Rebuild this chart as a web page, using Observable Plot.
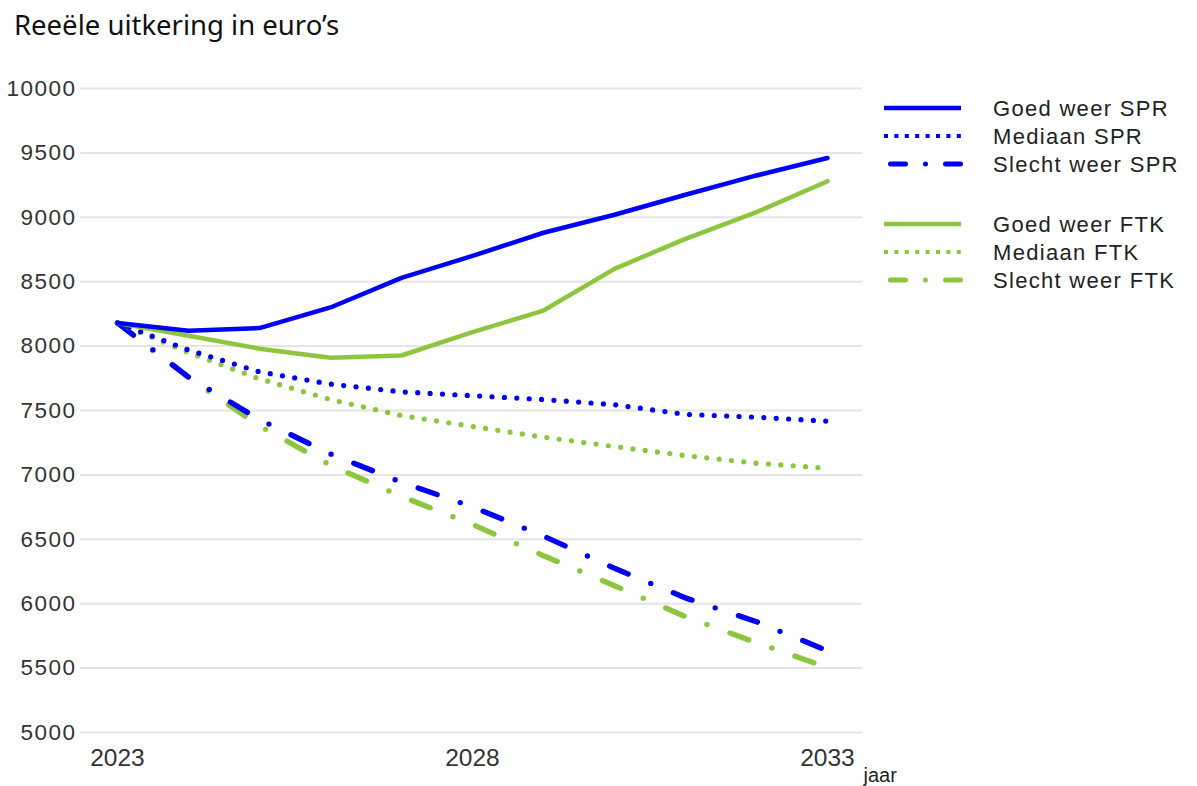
<!DOCTYPE html>
<html>
<head>
<meta charset="utf-8">
<script src="https://cdn.jsdelivr.net/npm/d3@7"></script>
<script src="https://cdn.jsdelivr.net/npm/@observablehq/plot@0.6"></script>
<style>
  html, body { margin: 0; padding: 0; background: #fff; }
  #wrap { position: relative; width: 1197px; height: 786px; overflow: hidden; }
  #title { height: 60px; box-sizing: border-box; padding: 6px 0 0 14px; font-family: "Noto Sans", "Open Sans", sans-serif; font-size: 27.5px; color: #111; }
  #legend { position: absolute; left: 0; top: 0; }
  #legend text { font-family: "Liberation Sans", Arial, sans-serif; font-size: 22px; fill: #222; letter-spacing: 1.3px; }
  #chart svg g[aria-label="y-axis tick label"] text { letter-spacing: 1.5px; }
</style>
</head>
<body>
<div id="wrap">
  <div id="title">Reeële uitkering in euro’s</div>
  <div id="chart"></div>
</div>
<script>
const years = [2023, 2024, 2025, 2026, 2027, 2028, 2029, 2030, 2031, 2032, 2033];
const goedSPR    = [8180, 8120, 8140, 8300, 8530, 8700, 8880, 9020, 9175, 9325, 9460];
const mediaanSPR = [8180, 7970, 7800, 7705, 7645, 7615, 7585, 7545, 7470, 7448, 7417];
const slechtSPR  = [8180, 7760, 7430, 7163, 6943, 6752, 6525, 6275, 6045, 5860, 5635];
const goedFTK    = [8180, 8080, 7980, 7910, 7927, 8108, 8276, 8600, 8833, 9040, 9280];
const mediaanFTK = [8180, 7950, 7746, 7585, 7461, 7376, 7293, 7220, 7150, 7091, 7052];
const slechtFTK  = [8180, 7756, 7380, 7075, 6833, 6615, 6373, 6140, 5900, 5697, 5505];
const yTicks = [5000, 5500, 6000, 6500, 7000, 7500, 8000, 8500, 9000, 9500, 10000];
const xTicks = [2023, 2028, 2033];
const seriesNames = ["Goed weer SPR", "Mediaan SPR", "Slecht weer SPR", "Goed weer FTK", "Mediaan FTK", "Slecht weer FTK"];

const BLUE = "#0000f5";
const GREEN = "#8cc63f";

const toRows = (vals) => years.map((y, i) => ({year: y, value: vals[i]}));

const solid = {strokeWidth: 4.5, strokeLinejoin: "round"};
const dotted = {strokeWidth: 5.2, strokeDasharray: "0 12.4", strokeLinecap: "round"};
const dashdot = {strokeWidth: 5.4, strokeDasharray: "20 24.5 0 24.5", strokeLinecap: "round"};

const chart = Plot.plot({
  width: 910,
  height: 726,
  marginLeft: 80,
  marginRight: 48,
  marginTop: 28,
  marginBottom: 54,
  style: {fontFamily: "'Liberation Sans', Arial, sans-serif", background: "transparent", color: "#333"},
  x: {domain: [2022.479, 2033.493]},
  y: {domain: [5000, 10000]},
  marks: [
    Plot.ruleY(yTicks, {stroke: "#e4e4e4", strokeWidth: 2}),
    Plot.axisY({ticks: yTicks, tickSize: 0, tickPadding: 4, fontSize: 22.5, tickFormat: d => String(d), label: null}),
    Plot.axisX({ticks: xTicks, tickSize: 0, tickPadding: 16, fontSize: 24.5, tickFormat: d => String(d), label: null}),
    Plot.text(["jaar"], {frameAnchor: "bottom-right", text: d => d, textAnchor: "start", lineAnchor: "bottom", dx: 1, dy: 49, fontSize: 20, fill: "#222"}),
    Plot.line(toRows(slechtFTK), {x: "year", y: "value", stroke: GREEN, ...dashdot}),
    Plot.line(toRows(slechtSPR), {x: "year", y: "value", stroke: BLUE, ...dashdot}),
    Plot.line(toRows(mediaanFTK), {x: "year", y: "value", stroke: GREEN, ...dotted}),
    Plot.line(toRows(mediaanSPR), {x: "year", y: "value", stroke: BLUE, ...dotted}),
    Plot.line(toRows(goedFTK), {x: "year", y: "value", stroke: GREEN, ...solid}),
    Plot.line(toRows(goedSPR), {x: "year", y: "value", stroke: BLUE, ...solid})
  ]
});
document.getElementById("chart").appendChild(chart);

// Legend
const legendStyles = [
  {color: BLUE, dash: null, w: 4.5, cap: "butt"},
  {color: BLUE, dash: "4 6.4", w: 4.2, cap: "butt"},
  {color: BLUE, dash: "15 20 0 20", w: 5, cap: "round"},
  {color: GREEN, dash: null, w: 4.5, cap: "butt"},
  {color: GREEN, dash: "4 6.4", w: 4.2, cap: "butt"},
  {color: GREEN, dash: "15 20 0 20", w: 5, cap: "round"}
];
const legendY = [108, 136, 164, 224, 252, 280];
const ns = "http://www.w3.org/2000/svg";
const leg = document.createElementNS(ns, "svg");
leg.setAttribute("id", "legend");
leg.setAttribute("width", 1197);
leg.setAttribute("height", 320);
leg.style.position = "absolute";
leg.style.left = "0px";
leg.style.top = "0px";
seriesNames.forEach((name, i) => {
  const s = legendStyles[i];
  const y = legendY[i];
  const line = document.createElementNS(ns, "line");
  const isDD = s.dash && s.cap === "round";
  line.setAttribute("x1", isDD ? 890.5 : 884);
  line.setAttribute("x2", 961);
  line.setAttribute("y1", y);
  line.setAttribute("y2", y);
  line.setAttribute("stroke", s.color);
  line.setAttribute("stroke-width", s.w);
  line.setAttribute("stroke-linecap", s.cap);
  if (s.dash) line.setAttribute("stroke-dasharray", s.dash);
  leg.appendChild(line);
  const t = document.createElementNS(ns, "text");
  t.setAttribute("x", 993);
  t.setAttribute("y", y + 8);
  t.textContent = name;
  leg.appendChild(t);
});
document.getElementById("wrap").appendChild(leg);
</script>
</body>
</html>
